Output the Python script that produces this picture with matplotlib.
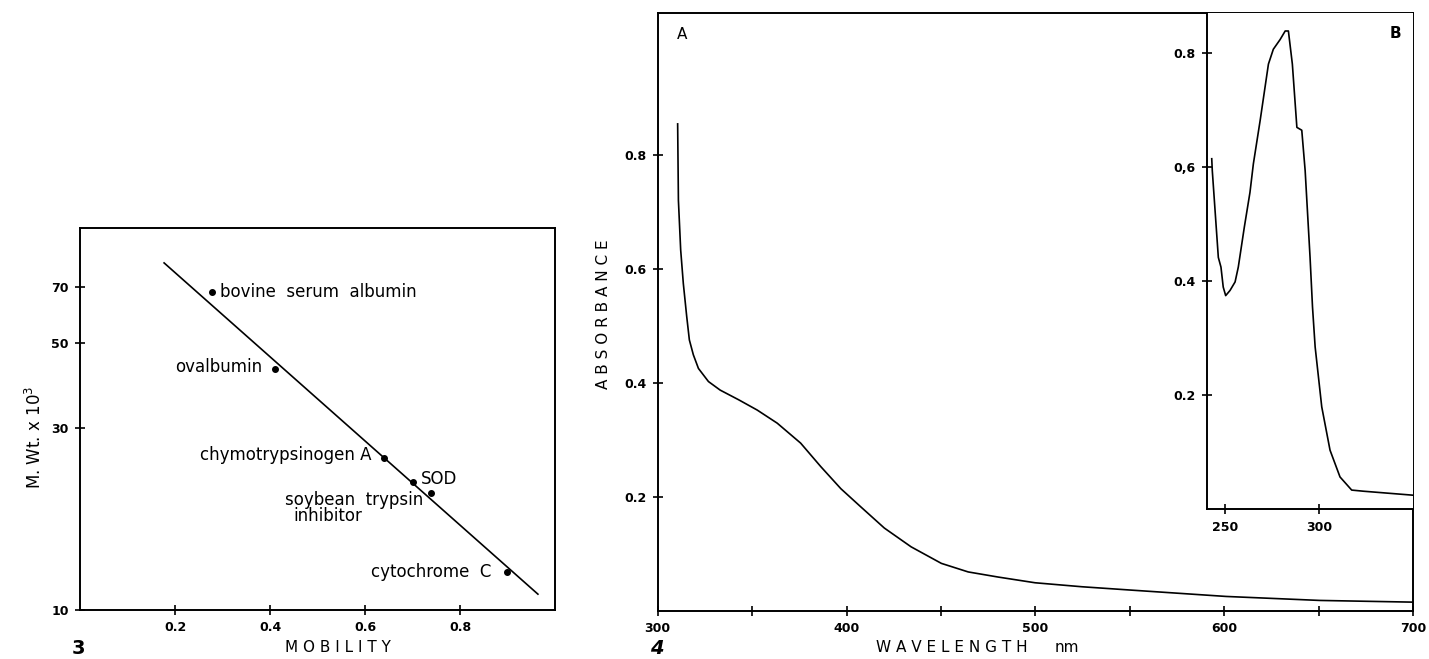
import matplotlib
matplotlib.use("Agg")
import matplotlib.pyplot as plt
from matplotlib.ticker import FixedLocator, NullLocator, FixedFormatter

# Fig. 3 - molecular weight standards vs mobility
proteins = ["bovine  serum  albumin", "ovalbumin", "chymotrypsinogen A", "SOD",
            "soybean  trypsin", "cytochrome  C"]
mobility = [0.278, 0.411, 0.639, 0.702, 0.738, 0.898]
mol_wt = [67.9, 42.8, 25.0, 21.6, 20.2, 12.6]
fit_mobility = [0.177, 0.964]
fit_mol_wt = [81.0, 11.0]

# Fig. 4A - visible spectrum
wl_a = [310.6, 311.0, 312.2, 313.6, 315.4, 316.8, 318.9, 321.6, 326.9, 333.1,
        342.9, 352.7, 363.3, 375.7, 386.3, 397.0, 407.6, 420.0, 434.2, 450.2,
        464.4, 480.3, 499.8, 524.6, 551.2, 600.9, 650.5, 700.0]
abs_a = [0.854, 0.720, 0.633, 0.574, 0.516, 0.475, 0.449, 0.425, 0.402, 0.387,
         0.370, 0.352, 0.329, 0.294, 0.253, 0.214, 0.182, 0.145, 0.112, 0.083,
         0.068, 0.059, 0.049, 0.042, 0.036, 0.025, 0.018, 0.015]

# Fig. 4B - UV spectrum (inset)
wl_b = [243.0, 243.3, 246.5, 247.9, 249.1, 250.4, 252.7, 255.4, 257.1, 260.3,
        263.3, 265.1, 268.7, 273.1, 275.7, 279.3, 282.0, 283.7, 285.8, 288.2,
        290.8, 292.6, 295.2, 296.5, 297.9, 301.4, 305.8, 311.1, 317.3, 323.6,
        350.0]
abs_b = [0.615, 0.594, 0.442, 0.425, 0.390, 0.375, 0.384, 0.399, 0.425, 0.495,
         0.556, 0.606, 0.682, 0.781, 0.807, 0.824, 0.839, 0.839, 0.781, 0.670,
         0.665, 0.594, 0.442, 0.355, 0.285, 0.180, 0.104, 0.057, 0.034, 0.032,
         0.025]

tick_font = dict(family="DejaVu Sans", size=9, weight="bold")
label_font = dict(family="DejaVu Sans", size=11)
note_font = dict(family="DejaVu Sans", size=12)


def style_axes(ax):
    for s in ax.spines.values():
        s.set_linewidth(1.4)
    ax.tick_params(direction="inout", length=7, width=1.2, pad=4.5)
    for lab in ax.get_xticklabels() + ax.get_yticklabels():
        lab.set_fontfamily(tick_font["family"])
        lab.set_fontsize(tick_font["size"])
        lab.set_fontweight(tick_font["weight"])


fig = plt.figure(figsize=(14.29, 6.59), dpi=100)

# ---- left panel ----
ax1 = fig.add_axes([0.0560, 0.0744, 0.3324, 0.5797])
ax1.plot(fit_mobility, fit_mol_wt, color="black", lw=1.2)
ax1.plot(mobility, mol_wt, "o", color="black", ms=4)
ax1.set_yscale("log")
ax1.set_xlim(0, 1.0)
ax1.set_ylim(10, 100)
ax1.xaxis.set_major_locator(FixedLocator([0.2, 0.4, 0.6, 0.8]))
ax1.yaxis.set_major_locator(FixedLocator([10, 30, 50, 70]))
ax1.yaxis.set_major_formatter(FixedFormatter(["10", "30", "50", "70"]))
ax1.yaxis.set_minor_locator(NullLocator())
style_axes(ax1)

# labels next to the standards (offsets in points)
offsets = [(6, 0, "left"), (-9, 1, "right"), (-9, 2, "right"), (5, 2, "left"),
           (-5, -5, "right"), (-11, 0, "right")]
for name, x, y, (dx, dy, ha) in zip(proteins, mobility, mol_wt, offsets):
    ax1.annotate(name, (x, y), xytext=(dx, dy), textcoords="offset points",
                 ha=ha, va="center", **note_font)
ax1.annotate("inhibitor", (mobility[4], mol_wt[4]), xytext=(-74, -16),
             textcoords="offset points", ha="center", va="center", **note_font)

fig.text(35 / 1429, 1 - 437 / 659, r"M. Wt. x 10$^3$", rotation=90,
         ha="center", va="center", family="DejaVu Sans", size=12)
fig.text(338 / 1429, 1 - 648 / 659, "M O B I L I T Y", ha="center", va="center",
         **label_font)
fig.text(78 / 1429, 1 - 648 / 659, "3", ha="center", va="center",
         family="DejaVu Sans", size=14, weight="bold")

# ---- right panel ----
ax2 = fig.add_axes([0.4602, 0.0733, 0.5288, 0.9065])
ax2.plot(wl_a, abs_a, color="black", lw=1.2)
ax2.set_xlim(300, 700)
ax2.set_ylim(0, 1.048)
ax2.xaxis.set_major_locator(FixedLocator([300, 400, 500, 600, 700]))
ax2.xaxis.set_minor_locator(FixedLocator([350, 450, 550, 650]))
ax2.yaxis.set_major_locator(FixedLocator([0.2, 0.4, 0.6, 0.8]))
ax2.yaxis.set_major_formatter(FixedFormatter(["0.2", "0.4", "0.6", "0.8"]))
style_axes(ax2)
ax2.tick_params(which="minor", direction="inout", length=7, width=1.2)
ax2.text(0.032, 0.965, "A", transform=ax2.transAxes, ha="center", va="center",
         family="DejaVu Sans", size=11)

fig.text(603 / 1429, 1 - 314 / 659, "A B S O R B A N C E", rotation=90,
         ha="center", va="center", **label_font)
fig.text(952 / 1429, 1 - 648 / 659, "W A V E L E N G T H", ha="center",
         va="center", **label_font)
fig.text(1067 / 1429, 1 - 648 / 659, "nm", ha="center", va="center",
         family="DejaVu Sans", size=11)
fig.text(657 / 1429, 1 - 648 / 659, "4", ha="center", va="center",
         family="DejaVu Sans", size=14, weight="bold", style="italic")

# ---- inset B ----
ax3 = fig.add_axes([0.8444, 0.2269, 0.1446, 0.7529])
ax3.plot(wl_b, abs_b, color="black", lw=1.2)
ax3.set_xlim(240.3, 350)
ax3.set_ylim(0, 0.87)
ax3.xaxis.set_major_locator(FixedLocator([250, 300]))
ax3.yaxis.set_major_locator(FixedLocator([0.2, 0.4, 0.6, 0.8]))
ax3.yaxis.set_major_formatter(FixedFormatter(["0.2", "0.4", "0,6", "0.8"]))
ax3.spines["top"].set_visible(False)
ax3.spines["right"].set_visible(False)
style_axes(ax3)
ax3.text(0.915, 0.96, "B", transform=ax3.transAxes, ha="center", va="center",
         family="DejaVu Sans", size=11, weight="bold")

fig.savefig("out.png", dpi=100)
